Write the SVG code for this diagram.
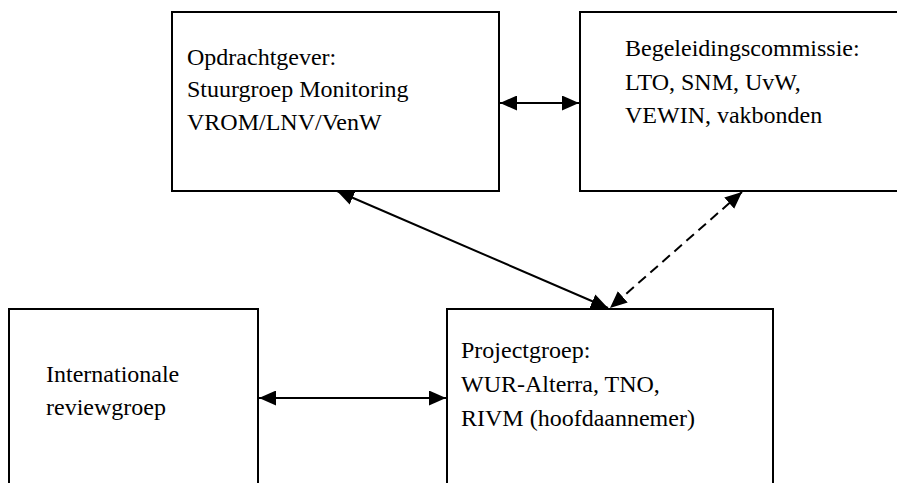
<svg xmlns="http://www.w3.org/2000/svg" width="897" height="483" viewBox="0 0 897 483">
<style>
.box{fill:#fff;stroke:#000;stroke-width:2}
.t{font-family:"Liberation Serif","Times New Roman",serif;font-size:24px;fill:#000}
.c{stroke:#000;stroke-width:2;fill:none}
.d{stroke-dasharray:10,6}
</style>
<defs>
<marker id="ah" markerUnits="userSpaceOnUse" markerWidth="17" markerHeight="15" refX="17" refY="7.5" orient="auto-start-reverse">
<path d="M0,0 L17,7.5 L0,15 Z" fill="#000"/>
</marker>
</defs>
<rect width="897" height="483" fill="#fff"/>
<g id="opdrachtgever">
<rect class="box" x="172" y="12" width="327" height="179"/>
<text class="t" x="187" y="65">Opdrachtgever:</text>
<text class="t" x="187" y="97">Stuurgroep Monitoring</text>
<text class="t" x="187" y="130">VROM/LNV/VenW</text>
</g>
<g id="begeleidingscommissie">
<rect class="box" x="580" y="12" width="330" height="179"/>
<text class="t" x="625" y="56">Begeleidingscommissie:</text>
<text class="t" x="625" y="90">LTO, SNM, UvW,</text>
<text class="t" x="625" y="123">VEWIN, vakbonden</text>
</g>
<g id="reviewgroep">
<rect class="box" x="9" y="309" width="249" height="190"/>
<text class="t" x="46" y="382">Internationale</text>
<text class="t" x="46" y="415">reviewgroep</text>
</g>
<g id="projectgroep">
<rect class="box" x="447" y="309" width="326" height="190"/>
<text class="t" x="461" y="358">Projectgroep:</text>
<text class="t" x="461" y="392">WUR-Alterra, TNO,</text>
<text class="t" x="461" y="426">RIVM (hoofdaannemer)</text>
</g>
<g id="connectors">
<line class="c" x1="500" y1="103" x2="579" y2="103" marker-start="url(#ah)" marker-end="url(#ah)"/>
<line class="c" x1="259" y1="398" x2="446" y2="398" marker-start="url(#ah)" marker-end="url(#ah)"/>
<line class="c" x1="337" y1="191" x2="608" y2="308" marker-start="url(#ah)" marker-end="url(#ah)"/>
<line class="c d" x1="742" y1="192" x2="610" y2="308" marker-start="url(#ah)" marker-end="url(#ah)"/>
</g>
</svg>
